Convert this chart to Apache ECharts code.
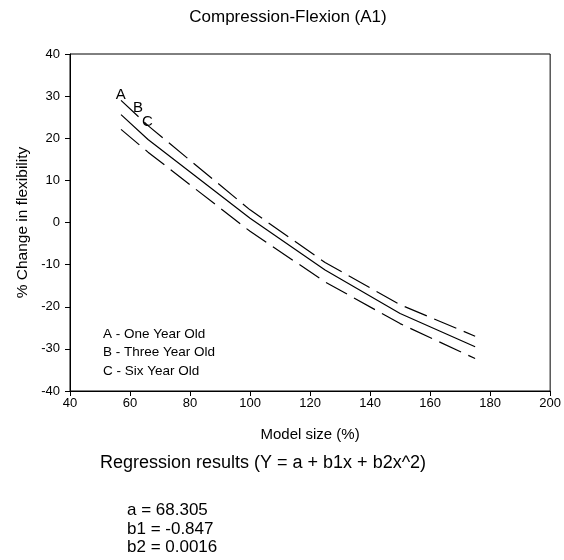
<!DOCTYPE html>
<html>
<head>
<meta charset="utf-8">
<style>
  html, body { margin: 0; padding: 0; background: #fff; }
  #chart { width: 564px; height: 560px; }
</style>
<script src="https://cdn.jsdelivr.net/npm/echarts@6/dist/echarts.min.js"></script>
</head>
<body>
<div id="chart"></div>
<script>
// model size (%) at which the curves were read
const modelSize = [57, 66, 100, 125, 150, 175];
// % change in flexibility
const oneYear = [29.0, 23.0, 3.0, -9.5, -19.5, -27.0];
const threeYear = [25.6, 19.7, 1.0, -11.3, -21.6, -29.5];
const sixYear = [22.1, 16.7, -2.1, -14.1, -24.0, -32.3];

// curve letters placed next to the line starts
const letterText = ['A', 'B', 'C'];
const letterX = [56.9, 62.7, 65.8];
const letterY = [30.2, 27.2, 23.9];

const legendLines = ['A - One Year Old', 'B - Three Year Old', 'C - Six Year Old'];
const regressionLines = ['a = 68.305', 'b1 = -0.847', 'b2 = 0.0016'];

const FONT = 'Liberation Sans, Arial, Helvetica, sans-serif';

const pairs = (ys) => modelSize.map((x, i) => [x, ys[i]]);

const chart = echarts.init(document.getElementById('chart'));

const lineStyle = (type) => ({ color: '#000', width: 1.2, type: type });

const option = {
  animation: false,
  backgroundColor: '#fff',
  textStyle: { fontFamily: FONT, color: '#000' },
  grid: {
    left: 70,
    top: 54,
    right: 12,
    bottom: 169,
    show: true,
    borderColor: '#000',
    borderWidth: 1,
  },
  xAxis: {
    type: 'value',
    min: 40,
    max: 200,
    interval: 20,
    splitLine: { show: false },
    axisLine: { show: true, onZero: false, lineStyle: { color: '#000', width: 1 } },
    axisTick: { show: true, length: 5, lineStyle: { color: '#000' } },
    axisLabel: { color: '#000', fontSize: 13, fontFamily: FONT, margin: 6 },
    name: 'Model size (%)',
    nameLocation: 'middle',
    nameGap: 36,
    nameTextStyle: { color: '#000', fontSize: 15, fontFamily: FONT },
  },
  yAxis: {
    type: 'value',
    min: -40,
    max: 40,
    interval: 10,
    splitLine: { show: false },
    axisLine: { show: true, onZero: false, lineStyle: { color: '#000', width: 1 } },
    axisTick: { show: true, length: 5, lineStyle: { color: '#000' } },
    axisLabel: { color: '#000', fontSize: 13, fontFamily: FONT, margin: 10 },
    name: '% Change in flexibility',
    nameLocation: 'middle',
    nameGap: 39,
    nameRotate: 90,
    nameTextStyle: { color: '#000', fontSize: 15.5, fontFamily: FONT },
  },
  graphic: [
    {
      type: 'text',
      x: 288,
      y: 9,
      style: { text: 'Compression-Flexion (A1)', font: '17px ' + FONT, fill: '#000', textAlign: 'center' },
    },
    ...legendLines.map((t, i) => ({
      type: 'text',
      x: 103,
      y: 327 + i * 18.5,
      style: { text: t, font: '13.5px ' + FONT, fill: '#000' },
    })),
    {
      type: 'text',
      x: 100,
      y: 454,
      style: { text: 'Regression results (Y = a + b1x + b2x^2)', font: '18px ' + FONT, fill: '#000' },
    },
    ...regressionLines.map((t, i) => ({
      type: 'text',
      x: 127,
      y: 502 + i * 18.5,
      style: { text: t, font: '17px ' + FONT, fill: '#000' },
    })),
  ],
  series: [
    {
      name: 'One Year Old',
      type: 'line',
      data: pairs(oneYear),
      showSymbol: false,
      lineStyle: lineStyle([24, 8]),
    },
    {
      name: 'Three Year Old',
      type: 'line',
      data: pairs(threeYear),
      showSymbol: false,
      lineStyle: lineStyle('solid'),
    },
    {
      name: 'Six Year Old',
      type: 'line',
      data: pairs(sixYear),
      showSymbol: false,
      lineStyle: lineStyle([24, 8]),
    },
    {
      name: 'letters',
      type: 'scatter',
      symbolSize: 0,
      itemStyle: { opacity: 1, color: '#000' },
      data: letterText.map((t, i) => ({ value: [letterX[i], letterY[i]], name: t })),
      label: {
        show: true,
        position: 'inside',
        formatter: (p) => p.name,
        color: '#000',
        textBorderWidth: 0,
        fontSize: 15,
        fontFamily: FONT,
      },
      z: 5,
    },
  ],
};

chart.setOption(option);
</script>
</body>
</html>
